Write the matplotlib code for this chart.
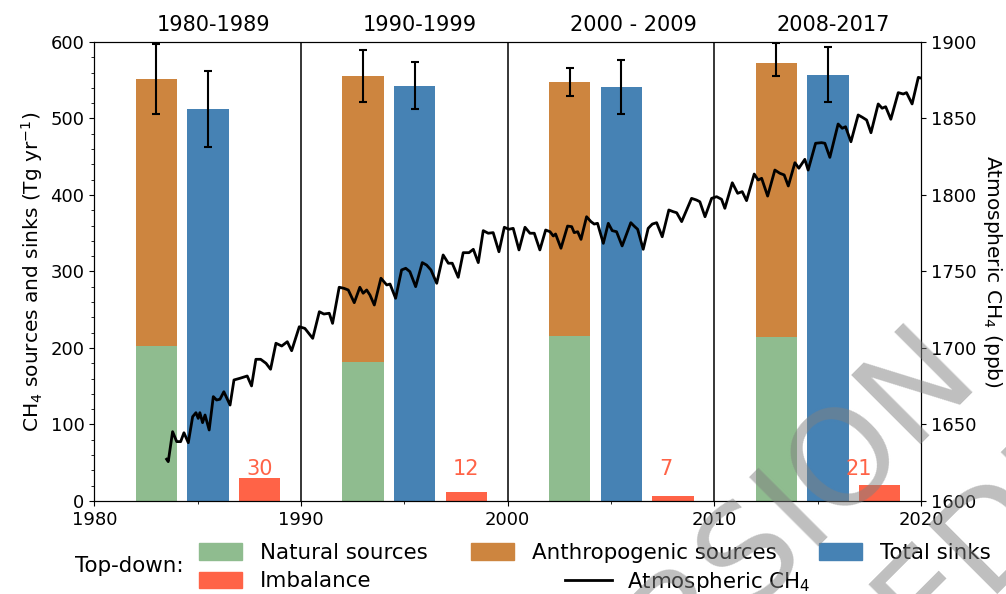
import matplotlib.pyplot as plt
from matplotlib.ticker import MultipleLocator
from matplotlib.lines import Line2D
from matplotlib.patches import Patch
import matplotlib.transforms as mtransforms
import numpy as np

# Decadal top-down budgets (Tg CH4 / yr)
periods = ['1980-1989', '1990-1999', '2000 - 2009', '2008-2017']
decade_start = [1980, 1990, 2000, 2010]
natural = [203, 182, 216, 215]
total_sources = [552, 555, 548, 573]
sources_err_lo = [46, 33, 18, 18]
sources_err_hi = [46, 34, 18, 26]
total_sinks = [512, 543, 541, 557]
sinks_err_lo = [49, 31, 35, 36]
sinks_err_hi = [50, 31, 35, 37]
imbalance = [30, 12, 7, 21]

# Atmospheric CH4 (ppb)
ch4_year = [1983.50, 1983.58, 1983.79, 1983.99, 1984.18, 1984.34, 1984.55, 1984.76, 1984.92,
            1985.03, 1985.11, 1985.24, 1985.36, 1985.56, 1985.76, 1985.92, 1986.08, 1986.27,
            1986.57, 1986.76, 1987.05, 1987.40, 1987.61, 1987.82, 1988.05, 1988.31, 1988.53,
            1988.79, 1989.07, 1989.34, 1989.55, 1989.92, 1990.19, 1990.57, 1990.89, 1991.11,
            1991.37, 1991.53, 1991.85, 1992.08, 1992.29, 1992.58, 1992.85, 1993.01, 1993.18,
            1993.34, 1993.55, 1993.87, 1994.15, 1994.31, 1994.58, 1994.87, 1995.07, 1995.27,
            1995.55, 1995.87, 1996.08, 1996.29, 1996.57, 1996.88, 1997.13, 1997.32, 1997.61,
            1997.85, 1998.13, 1998.34, 1998.58, 1998.82, 1999.06, 1999.30, 1999.58, 1999.84,
            2000.06, 2000.27, 2000.55, 2000.84, 2001.08, 2001.29, 2001.56, 2001.84, 2002.05,
            2002.21, 2002.32, 2002.58, 2002.90, 2003.10, 2003.22, 2003.39, 2003.55, 2003.82,
            2004.03, 2004.19, 2004.35, 2004.63, 2004.87, 2005.06, 2005.27, 2005.54, 2005.96,
            2006.12, 2006.29, 2006.56, 2006.80, 2007.00, 2007.21, 2007.48, 2007.80, 2008.01,
            2008.18, 2008.42, 2008.90, 2009.14, 2009.30, 2009.55, 2009.87, 2010.11, 2010.35,
            2010.51, 2010.87, 2011.13, 2011.35, 2011.56, 2011.93, 2012.12, 2012.29, 2012.58,
            2012.93, 2013.17, 2013.38, 2013.58, 2013.90, 2014.09, 2014.38, 2014.54, 2014.90,
            2015.19, 2015.35, 2015.59, 2015.99, 2016.19, 2016.35, 2016.61, 2016.96, 2017.16,
            2017.37, 2017.58, 2017.93, 2018.12, 2018.29, 2018.54, 2018.90, 2019.14, 2019.30,
            2019.57, 2019.87, 2020.03]
ch4_ppb = [1627.3, 1625.7, 1645.3, 1638.8, 1638.8, 1644.6, 1638.1, 1655.1, 1657.7,
           1654.0, 1657.7, 1651.2, 1656.2, 1646.4, 1668.2, 1666.0, 1666.5, 1671.4,
           1662.7, 1679.1, 1680.2, 1681.7, 1675.2, 1692.6, 1692.6, 1690.0, 1686.1,
           1703.1, 1701.3, 1704.1, 1698.2, 1713.9, 1712.8, 1706.3, 1723.7, 1722.2,
           1722.7, 1716.1, 1739.7, 1739.0, 1737.9, 1729.6, 1739.7, 1735.8, 1737.9,
           1734.6, 1728.1, 1745.6, 1741.2, 1741.8, 1732.5, 1751.0, 1752.1, 1749.9,
           1740.1, 1755.8, 1754.2, 1751.0, 1742.3, 1760.8, 1755.4, 1755.4, 1746.2,
           1762.3, 1762.3, 1764.5, 1755.8, 1776.7, 1775.0, 1775.4, 1762.9, 1778.9,
           1777.6, 1778.2, 1764.1, 1778.9, 1775.0, 1775.0, 1764.1, 1777.1, 1776.0,
           1773.2, 1774.5, 1765.2, 1779.7, 1779.3, 1775.4, 1776.0, 1771.0, 1785.8,
           1782.6, 1781.0, 1781.5, 1768.4, 1781.5, 1776.7, 1776.0, 1766.7, 1781.9,
           1779.7, 1777.6, 1764.5, 1778.2, 1781.0, 1781.9, 1772.7, 1790.2, 1789.1,
           1788.4, 1782.6, 1797.8, 1796.7, 1795.6, 1785.8, 1797.8, 1798.9, 1797.2,
           1791.3, 1808.0, 1801.1, 1802.2, 1796.3, 1813.7, 1809.8, 1810.9, 1799.3,
           1816.3, 1814.2, 1813.1, 1805.9, 1821.1, 1817.5, 1823.3, 1816.3, 1833.8,
           1834.2, 1833.8, 1824.6, 1846.4, 1843.6, 1844.6, 1834.8, 1852.3, 1850.8,
           1849.0, 1840.7, 1859.5, 1856.7, 1857.7, 1849.5, 1866.9, 1866.0, 1866.9,
           1859.5, 1876.9, 1876.3]

c_nat = '#8FBC8F'
c_ant = '#CD853F'
c_sink = '#4682B4'
c_imb = '#FF6347'

fig = plt.figure(figsize=(10.06, 5.94), dpi=100)
ax = fig.add_axes([0.0937, 0.1566, 0.8218, 0.7727])

start = np.array(decade_start, dtype=float)
nat = np.array(natural)
tot = np.array(total_sources)
ant = tot - nat
w = 2.0

ax.bar(start + 3, nat, w, color=c_nat, zorder=2)
ax.bar(start + 3, ant, w, bottom=nat, color=c_ant, zorder=2)
ax.errorbar(start + 3, tot, yerr=[sources_err_lo, sources_err_hi], fmt='none',
            ecolor='black', elinewidth=1.5, capsize=3.2, capthick=1.5, zorder=3)
ax.bar(start + 5.5, total_sinks, w, color=c_sink, zorder=2)
ax.errorbar(start + 5.5, total_sinks, yerr=[sinks_err_lo, sinks_err_hi], fmt='none',
            ecolor='black', elinewidth=1.5, capsize=3.2, capthick=1.5, zorder=3)
ax.bar(start + 8, imbalance, w, color=c_imb, zorder=2)

# imbalance labels, titles of the periods
label_dx = [0.0, 0.0, -0.35, -1.0]
trans = mtransforms.blended_transform_factory(ax.transData, ax.transAxes)
for i in range(len(periods)):
    ax.text(start[i] + 8 + label_dx[i], 34, str(imbalance[i]), color=c_imb,
            fontsize=15, ha='center', va='baseline')
    ax.text(start[i] + 3, 1.024, periods[i], transform=trans, fontsize=15,
            ha='left', va='baseline')

for xv in [1990, 2000, 2010]:
    ax.axvline(xv, color='black', lw=1.1, zorder=1)

ax.set_xlim(1980, 2020)
ax.set_ylim(0, 600)
ax.xaxis.set_major_locator(MultipleLocator(10))
ax.xaxis.set_minor_locator(MultipleLocator(5))
ax.yaxis.set_major_locator(MultipleLocator(100))
ax.yaxis.set_minor_locator(MultipleLocator(20))
ax.tick_params(labelsize=13)
ax.set_ylabel('CH$_4$ sources and sinks (Tg yr$^{-1}$)', fontsize=14.5)

ax2 = ax.twinx()
ax2.plot(ch4_year, ch4_ppb, color='black', lw=2.0, solid_joinstyle='round')
ax2.set_ylim(1600, 1900)
ax2.yaxis.set_major_locator(MultipleLocator(50))
ax2.tick_params(labelsize=13)
ax2.set_ylabel('Atmospheric CH$_4$ (ppb)', fontsize=14.5, rotation=270, labelpad=20)

# legends below the plot
bar_handles = [Patch(color=c_nat), Patch(color=c_imb), Patch(color=c_ant), Patch(color=c_sink)]
bar_labels = ['Natural sources', 'Imbalance', 'Anthropogenic sources', 'Total sinks']
leg1 = fig.legend(bar_handles, bar_labels, ncol=3, loc='upper left',
                  bbox_to_anchor=(0.179, 0.1185), frameon=False, fontsize=15.4,
                  handlelength=2.0, handleheight=0.8, handletextpad=0.85,
                  columnspacing=2.0, labelspacing=0.4, borderpad=0.4)
leg2 = fig.legend([Line2D([0], [0], color='black', lw=2.0)], ['Atmospheric CH$_4$'],
                  loc='upper left', bbox_to_anchor=(0.542, 0.0736), frameon=False,
                  fontsize=15.4, handlelength=2.2, handletextpad=0.7, borderpad=0.4)
fig.text(0.0746, 0.047, 'Top-down:', fontsize=15.4, ha='left', va='center')

# draft watermark (two lines, rotated 45 deg, mostly off the page)
fig.text(0.5033, -0.4466, 'ACCEPTED VERSION', fontsize=96, color='grey', alpha=0.5,
         rotation=45, rotation_mode='anchor', ha='center', va='baseline', zorder=10)
fig.text(0.6157, -0.6370, 'SUBJECT TO FINAL EDITS', fontsize=96, color='grey', alpha=0.5,
         rotation=45, rotation_mode='anchor', ha='center', va='baseline', zorder=10)

fig.savefig('out.png', dpi=100)
